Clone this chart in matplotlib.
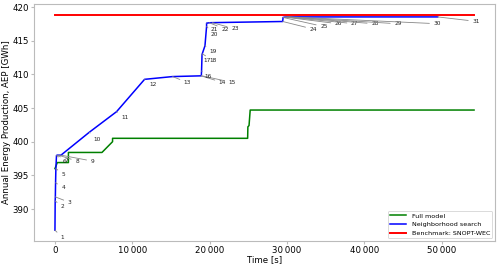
import matplotlib
matplotlib.use("Agg")
import matplotlib.pyplot as plt
from matplotlib.ticker import FuncFormatter

# Neighborhood search iterations (time [s], AEP [GWh])
ns_time = [0, 30, 50, 80, 120, 200, 300, 450, 780, 4440, 7970, 11590, 15210,
           18890, 18930, 18960, 19020, 19050, 19400, 19610, 19610, 19960, 20350,
           29450, 29500, 29700, 29850, 30000, 30150, 30300, 49500]
ns_aep = [386.85, 391.2, 391.8, 393.9, 396.0, 397.95, 398.0, 398.0, 398.0, 401.4,
          404.46, 409.26, 409.67, 409.78, 409.8, 410.5, 412.9, 413.05, 414.24,
          417.11, 417.6, 417.66, 417.68, 417.85, 418.45, 418.5, 418.51, 418.52,
          418.52, 418.53, 418.53]

# Full model
full_time = [0, 300, 1740, 1740, 6080, 7450, 7450, 24920, 24950, 25100, 25250, 54200]
full_aep = [396.0, 396.9, 396.9, 398.4, 398.4, 400.0, 400.5, 400.5, 402.2, 402.4, 404.7, 404.7]

# Benchmark
bench_time = [0, 54200]
bench_aep = [418.85, 418.85]

# label offsets (points) for the iteration numbers
label_offsets = [(5.5, -5.3), (5.5, -4.3), (10.3, -4.0), (5.5, -3.6), (5.5, -4.1),
                 (5.6, -4.0), (6.5, -3.6), (13.5, -4.3), (22.7, -4.3), (5.5, -5.0),
                 (6.0, -4.3), (5.8, -4.0), (10.8, -4.3), (15.5, -4.8), (22.1, -4.8),
                 (5.0, -4.1), (3.8, -4.1), (7.9, -4.8), (6.2, -4.1), (5.5, -5.5),
                 (5.5, -4.3), (11.3, -4.5), (16.3, -4.5), (22.1, -5.5), (29.5, -6.6),
                 (38.9, -4.8), (49.7, -4.8), (63.4, -4.9), (79.2, -4.9), (106.6, -4.9),
                 (27.6, -3.2)]

fig = plt.figure(figsize=(5.0, 2.66), dpi=100)
ax = fig.add_axes([0.068, 0.094, 0.922, 0.891])

ax.plot(full_time, full_aep, color="green", lw=1.1, label="Full model")
ax.plot(ns_time, ns_aep, color="blue", lw=1.1, label="Neighborhood search")
ax.plot(bench_time, bench_aep, color="red", lw=1.4, label="Benchmark: SNOPT-WEC")

for i, (t, a) in enumerate(zip(ns_time, ns_aep)):
    ax.annotate(str(i + 1), xy=(t, a), xytext=label_offsets[i],
                textcoords="offset points", fontsize=4.2, color="#222222",
                ha="center", va="center",
                arrowprops=dict(arrowstyle="-", color="#888888", lw=0.6,
                                shrinkA=1, shrinkB=0))

ax.xaxis.set_major_formatter(FuncFormatter(lambda v, p: f"{int(v):,}".replace(",", "\u2009")))
ax.set_yticks([390, 395, 400, 405, 410, 415, 420])
ax.set_xticks([0, 10000, 20000, 30000, 40000, 50000])
ax.set_xlabel("Time [s]", fontsize=6.2, labelpad=0)
ax.set_ylabel("Annual Energy Production, AEP [GWh]", fontsize=6.2, labelpad=1)
ax.tick_params(labelsize=6.2, length=2, color="#bbbbbb", pad=1.5)
for s in ax.spines.values():
    s.set_color("#bbbbbb")

leg = ax.legend(loc="lower right", fontsize=4.6, handlelength=2.5, framealpha=1,
                borderaxespad=0.4)
leg.get_frame().set_linewidth(0.5)

fig.savefig("out.png", dpi=100)
